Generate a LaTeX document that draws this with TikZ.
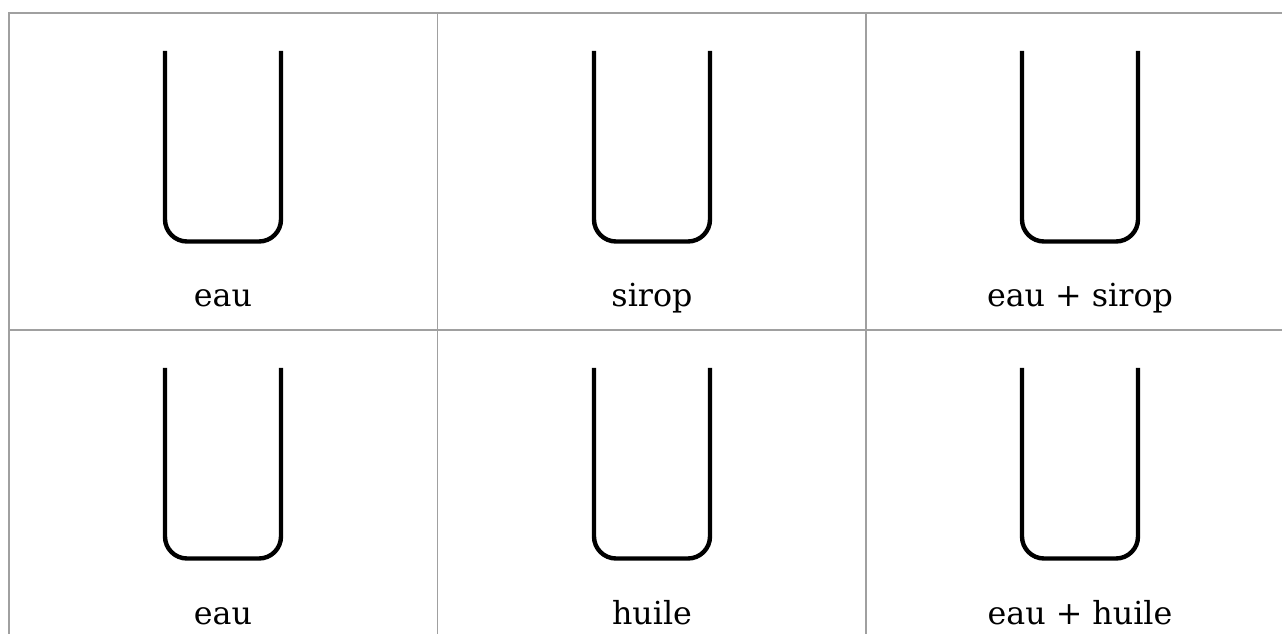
\documentclass[tikz,border=0pt]{standalone}
\usepackage{fontspec}
\setmainfont{DejaVu Serif}
\begin{document}
\begin{tikzpicture}[x=0.75pt,y=-0.75pt,
  gridline/.style={draw={rgb,255:red,160;green,160;blue,160},line width=1.1pt},
  tube/.style={draw=black,line width=3.3pt,rounded corners=16.5pt},
  lbl/.style={anchor=base,inner sep=0pt,font=\fontsize{23.8}{28}\selectfont}]
\useasboundingbox (0,0) rectangle (1282,634);
% grid
\draw[gridline] (1290,13) -- (9,13) -- (9,640);
\draw[gridline] (9,330) -- (1290,330);
\draw[gridline] (437.5,13) -- (437.5,640);
\draw[gridline] (866,13) -- (866,640);
% tubes
\foreach \cx/\row in {223/0,652/0,1080/0,223/1,652/1,1080/1}{
  \pgfmathsetmacro{\dy}{317*\row}
  \draw[tube] (\cx-58,51+\dy) -- (\cx-58,241.5+\dy) -- (\cx+58,241.5+\dy) -- (\cx+58,51+\dy);
}
% labels
\node[lbl] (l1) at (223,307) {eau};
\node[lbl] (l2) at (652,307) {sirop};
\node[lbl] (l3) at (1080,307) {eau + sirop};
\node[lbl] (l4) at (223,624) {eau};
\node[lbl] (l5) at (652,624) {huile};
\node[lbl] (l6) at (1080,624) {eau + huile};
\end{tikzpicture}
\end{document}
